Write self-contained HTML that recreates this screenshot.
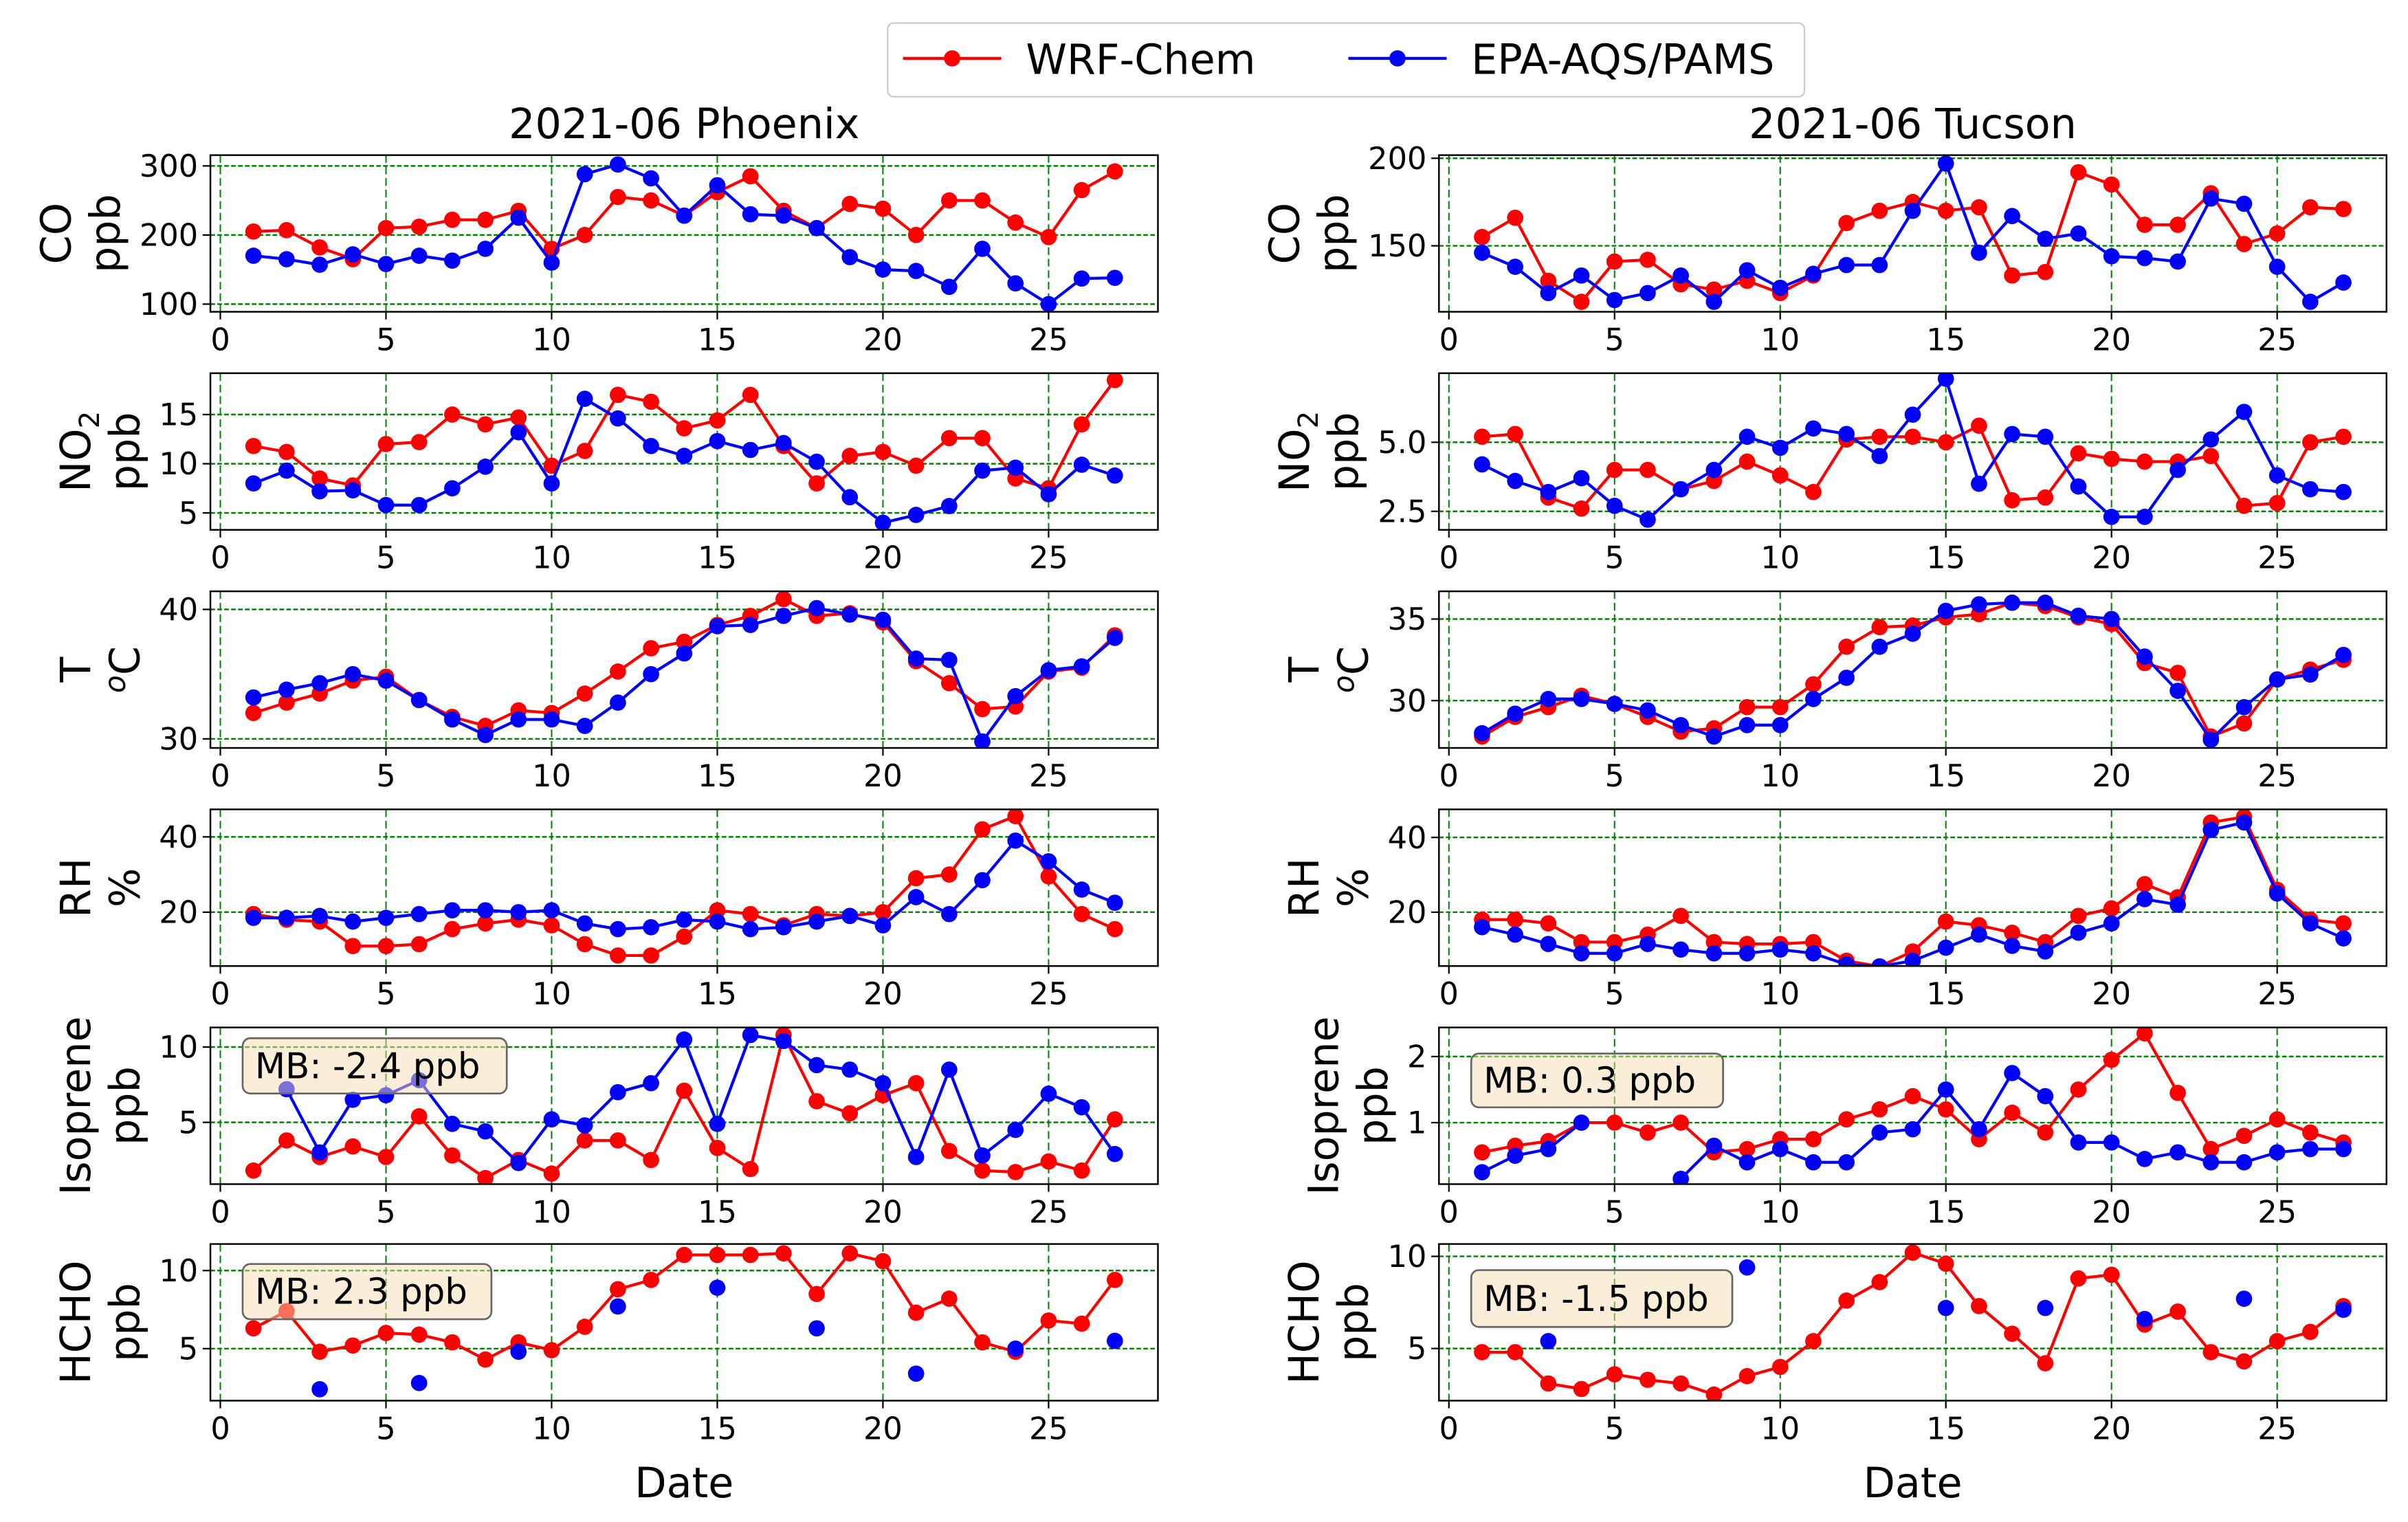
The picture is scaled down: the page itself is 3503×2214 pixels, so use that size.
<!DOCTYPE html>
<html><head><meta charset="utf-8"><style>
html,body{margin:0;padding:0;background:#fff;}
svg{display:block;font-family:"DejaVu Sans","Liberation Sans",sans-serif;}
</style></head><body>
<svg id="fig" width="3503" height="2214" viewBox="0 0 1568 991" xmlns="http://www.w3.org/2000/svg"></svg>
<script>
const days = [1,2,3,4,5,6,7,8,9,10,11,12,13,14,15,16,17,18,19,20,21,22,23,24,25,26,27];
const N = null;
const phxCoWrf = [205,207,182,165,210,212,222,222,235,180,200,255,250,228,262,285,235,210,245,238,200,250,250,218,197,265,292];
const phxCoObs = [170,165,157,172,158,170,163,180,225,160,288,302,282,228,272,230,228,210,168,150,148,125,180,130,100,137,138];
const tusCoWrf = [155,166,130,118,141,142,128,125,130,123,133,163,170,175,170,172,133,135,192,185,162,162,180,151,157,172,171];
const tusCoObs = [146,138,123,133,119,123,133,118,136,126,134,139,139,170,197,146,167,154,157,144,143,141,177,174,138,118,129];
const phxNo2Wrf = [11.8,11.2,8.5,7.8,12,12.2,15,14,14.7,9.8,11.3,17,16.3,13.6,14.4,17,11.8,8,10.8,11.2,9.8,12.6,12.6,8.5,7.5,14,18.5];
const phxNo2Obs = [8,9.3,7.2,7.3,5.8,5.8,7.5,9.7,13.2,8,16.6,14.6,11.8,10.8,12.3,11.4,12.1,10.2,6.6,4,4.8,5.7,9.3,9.6,6.9,9.9,8.8];
const tusNo2Wrf = [5.2,5.3,3.0,2.6,4.0,4.0,3.3,3.6,4.3,3.8,3.2,5.1,5.2,5.2,5.0,5.6,2.9,3.0,4.6,4.4,4.3,4.3,4.5,2.7,2.8,5.0,5.2];
const tusNo2Obs = [4.2,3.6,3.2,3.7,2.7,2.2,3.3,4.0,5.2,4.8,5.5,5.3,4.5,6.0,7.3,3.5,5.3,5.2,3.4,2.3,2.3,4.0,5.1,6.1,3.8,3.3,3.2];
const phxTWrf = [32,32.8,33.5,34.5,34.8,33,31.7,31,32.2,32,33.5,35.2,37,37.5,38.8,39.5,40.8,39.5,39.7,39,36,34.3,32.3,32.5,35.2,35.5,38];
const phxTObs = [33.2,33.8,34.3,35,34.5,33,31.5,30.3,31.5,31.5,31,32.8,35,36.6,38.7,38.8,39.5,40.1,39.6,39.2,36.2,36.1,29.8,33.3,35.3,35.6,37.8];
const tusTWrf = [27.8,29,29.6,30.3,29.8,29,28.1,28.3,29.6,29.6,31,33.3,34.5,34.6,35.1,35.3,36,35.8,35.1,34.7,32.3,31.7,27.8,28.6,31.3,31.9,32.5];
const tusTObs = [28,29.2,30.1,30.1,29.8,29.4,28.5,27.8,28.5,28.5,30.1,31.4,33.3,34.1,35.5,35.9,36,36,35.2,35,32.7,30.6,27.6,29.6,31.3,31.6,32.8];
const phxRhWrf = [19.5,18,17.5,11,11,11.5,15.5,17,18,16.5,11.5,8.5,8.5,13.5,20.5,19.5,16.5,19.5,19,20,29,30,42,45.5,29.5,19.5,15.5];
const phxRhObs = [18.5,18.5,19,17.5,18.5,19.5,20.5,20.5,20,20.5,17,15.5,16,18,17.5,15.5,16,17.5,19,16.5,24,19.5,28.5,39,33.5,26,22.5];
const tusRhWrf = [18,18,17,12,12,14,19,12,11.5,11.5,12,7,5.5,9.5,17.5,16.5,14.5,12,19,21,27.5,24,44,45.5,26,18,17];
const tusRhObs = [16,14,11.5,9,9,11.5,10,9,9,10,9,6,5.5,7,10.5,14,11,9.5,14.5,17,23.5,22,42,44,25,17,13];
const phxIsoWrf = [1.8,3.8,2.7,3.4,2.7,5.4,2.8,1.3,2.5,1.6,3.8,3.8,2.5,7.1,3.3,1.9,10.8,6.4,5.6,6.8,7.6,3.1,1.8,1.7,2.4,1.8,5.2];
const phxIsoObs = [N,7.2,3.0,6.5,6.8,7.8,4.9,4.4,2.3,5.2,4.8,7.0,7.6,10.5,4.9,10.8,10.4,8.8,8.5,7.6,2.7,8.5,2.8,4.5,6.9,6.0,2.9];
const tusIsoWrf = [0.55,0.65,0.72,1.0,1.0,0.85,1.0,0.55,0.6,0.75,0.75,1.05,1.2,1.4,1.2,0.75,1.15,0.85,1.5,1.95,2.35,1.45,0.6,0.8,1.05,0.85,0.7];
const tusIsoObs = [0.25,0.5,0.6,1.0,N,N,0.15,0.65,0.4,0.6,0.4,0.4,0.85,0.9,1.5,0.9,1.75,1.4,0.7,0.7,0.45,0.55,0.4,0.4,0.55,0.6,0.6];
const phxHchoWrf = [6.3,7.4,4.8,5.2,6.0,5.9,5.4,4.3,5.4,4.9,6.4,8.8,9.4,11,11,11,11.1,8.5,11.1,10.6,7.3,8.2,5.4,4.8,6.8,6.6,9.4];
const phxHchoObs = [N,N,2.4,N,N,2.8,N,N,4.8,N,N,7.7,N,N,8.9,N,N,6.3,N,N,3.4,N,N,5.0,N,N,5.5];
const tusHchoWrf = [4.8,4.8,3.1,2.8,3.6,3.3,3.1,2.5,3.5,4.0,5.4,7.6,8.6,10.2,9.6,7.3,5.8,4.2,8.8,9.0,6.3,7.0,4.8,4.3,5.4,5.9,7.3];
const tusHchoObs = [N,N,5.4,N,N,N,N,N,9.4,N,N,N,N,N,7.2,N,N,7.2,N,N,6.6,N,N,7.7,N,N,7.1];
const xTicks = [0,5,10,15,20,25];

const svg = document.getElementById('fig');
const NS = 'http://www.w3.org/2000/svg';
function mk(tag, attrs, parent, text){
  const e = document.createElementNS(NS, tag);
  for (const k in attrs) e.setAttribute(k, attrs[k]);
  if (text !== undefined) e.textContent = text;
  (parent || svg).appendChild(e);
  return e;
}
const colsX = [137, 937];
const W = 617;
const rowsY = [101,243,385,527,669,810];
const H = 102;
const XMIN = -0.3, XMAX = 28.3;
const TFS = 20;
const LFS = 27;
const MR = 5.3;
const LW = 1.9;

const panels = [
 {c:0,r:0,l1:'CO',l2:'ppb',ylim:[88.9,315.6],ticks:[100,200,300],tl:['100','200','300'],w:phxCoWrf,o:phxCoObs,name:'phoenix-co'},
 {c:1,r:0,l1:'CO',l2:'ppb',ylim:[112.3,201.8],ticks:[150,200],tl:['150','200'],w:tusCoWrf,o:tusCoObs,name:'tucson-co'},
 {c:0,r:1,l1:'NO2',l2:'ppb',ylim:[3.28,19.2],ticks:[5,10,15],tl:['5','10','15'],w:phxNo2Wrf,o:phxNo2Obs,name:'phoenix-no2'},
 {c:1,r:1,l1:'NO2',l2:'ppb',ylim:[1.83,7.5],ticks:[2.5,5],tl:['2.5','5.0'],w:tusNo2Wrf,o:tusNo2Obs,name:'tucson-no2'},
 {c:0,r:2,l1:'T',l2:'oC',ylim:[29.3,41.4],ticks:[30,40],tl:['30','40'],w:phxTWrf,o:phxTObs,name:'phoenix-t'},
 {c:1,r:2,l1:'T',l2:'oC',ylim:[27.1,36.7],ticks:[30,35],tl:['30','35'],w:tusTWrf,o:tusTObs,name:'tucson-t'},
 {c:0,r:3,l1:'RH',l2:'%',ylim:[5.7,47.3],ticks:[20,40],tl:['20','40'],w:phxRhWrf,o:phxRhObs,name:'phoenix-rh'},
 {c:1,r:3,l1:'RH',l2:'%',ylim:[5.6,47.5],ticks:[20,40],tl:['20','40'],w:tusRhWrf,o:tusRhObs,name:'tucson-rh'},
 {c:0,r:4,l1:'Isoprene',l2:'ppb',ylim:[0.9,11.3],ticks:[5,10],tl:['5','10'],w:phxIsoWrf,o:phxIsoObs,name:'phoenix-isoprene',mb:'MB: -2.4 ppb',box:[158,676,172,36]},
 {c:1,r:4,l1:'Isoprene',l2:'ppb',ylim:[0.07,2.44],ticks:[1,2],tl:['1','2'],w:tusIsoWrf,o:tusIsoObs,name:'tucson-isoprene',mb:'MB: 0.3 ppb',box:[958,686,164,35]},
 {c:0,r:5,l1:'HCHO',l2:'ppb',ylim:[1.67,11.7],ticks:[5,10],tl:['5','10'],w:phxHchoWrf,o:phxHchoObs,name:'phoenix-hcho',mb:'MB: 2.3 ppb',box:[158,823,162,36]},
 {c:1,r:5,l1:'HCHO',l2:'ppb',ylim:[2.17,10.67],ticks:[5,10],tl:['5','10'],w:tusHchoWrf,o:tusHchoObs,name:'tucson-hcho',mb:'MB: -1.5 ppb',box:[958,827,170,37]},
];

function drawSeries(g, vals, sx, sy, color, nm){
  let seg = [];
  const segs = [];
  vals.forEach((v,i)=>{ if (v===null){ if(seg.length) segs.push(seg); seg=[]; } else seg.push([sx(days[i]), sy(v)]); });
  if (seg.length) segs.push(seg);
  segs.forEach(s=>{
    if (s.length>1){
      const p = mk('polyline',{points:s.map(q=>q.join(',')).join(' '),fill:'none',stroke:color,'stroke-width':LW,'stroke-linejoin':'round'},g);
      
      
    }
  });
  vals.forEach((v,i)=>{
    if (v===null) return;
    const c = mk('circle',{cx:sx(days[i]),cy:sy(v),r:MR,fill:color},g);
    
    
  });
}

panels.forEach(p=>{
  const x0 = colsX[p.c], y0 = rowsY[p.r];
  const g = mk('g',{});
  
  
  const sx = v => x0 + (v - XMIN)/(XMAX-XMIN)*W;
  const sy = v => y0 + H - (v - p.ylim[0])/(p.ylim[1]-p.ylim[0])*H;
  const cid = 'clip-'+p.name;
  const cp = mk('clipPath',{id:cid},g); mk('rect',{x:x0,y:y0,width:W,height:H},cp);
  const grid = mk('g',{'clip-path':'url(#'+cid+')'},g);
  xTicks.forEach(t=>{
    const l = mk('line',{x1:sx(t),x2:sx(t),y1:y0,y2:y0+H,stroke:'#008000','stroke-width':0.9,'stroke-dasharray':'5,2.5'},grid);
    
    
  });
  p.ticks.forEach(t=>{
    const l = mk('line',{x1:x0,x2:x0+W,y1:sy(t),y2:sy(t),stroke:'#008000','stroke-width':1.1,'stroke-dasharray':'3,1.5'},grid);
    
    
  });
  const plot = mk('g',{'clip-path':'url(#'+cid+')'},g);
  drawSeries(plot, p.w, sx, sy, '#ff0000', p.name+'-wrf');
  drawSeries(plot, p.o, sx, sy, '#0000ff', p.name+'-obs');
  mk('rect',{x:x0,y:y0,width:W,height:H,fill:'none',stroke:'#000','stroke-width':1.1},g);
  xTicks.forEach(t=>{
    mk('line',{x1:sx(t),x2:sx(t),y1:y0+H,y2:y0+H+5,stroke:'#000','stroke-width':1},g);
    const tx = mk('text',{x:sx(t),y:y0+H+25,'font-size':TFS,'text-anchor':'middle',fill:'#000'},g,String(t));
    
    
  });
  let tw = 0;
  p.ticks.forEach((t,i)=>{
    mk('line',{x1:x0-5,x2:x0,y1:sy(t),y2:sy(t),stroke:'#000','stroke-width':1},g);
    const tx = mk('text',{x:x0-8,y:sy(t)+7,'font-size':TFS,'text-anchor':'end',fill:'#000'},g,p.tl[i]);
    
    
    const s = p.tl[i];
    let w = 0; for (const ch of s) w += (ch==='.'?0.32:0.636)*TFS;
    tw = Math.max(tw, w);
  });
  const tickStart = x0 - 8 - tw;
  const c2 = tickStart - 22, c1 = c2 - 32;
  const lx2 = c2 + 9, lx1 = c1 + 9;
  const cy = y0 + H/2;
  const yl = mk('text',{x:lx1,y:cy,'font-size':LFS,'text-anchor':'middle',fill:'#000',transform:'rotate(-90 '+lx1+' '+cy+')'},g);
  
  
  if (p.l1==='NO2'){ mk('tspan',{},yl,'NO'); mk('tspan',{'font-size':18,dy:6},yl,'2'); }
  else yl.textContent = p.l1;
  const yl2 = mk('text',{x:lx2,y:cy,'font-size':LFS,'text-anchor':'middle',fill:'#000',transform:'rotate(-90 '+lx2+' '+cy+')'},g);
  
  
  if (p.l2==='oC'){ mk('tspan',{'font-size':19,dy:-9,'font-style':'italic'},yl2,'o'); mk('tspan',{dy:9},yl2,'C'); }
  else yl2.textContent = p.l2;
  if (p.mb){
    const b = p.box;
    const r = mk('rect',{x:b[0],y:b[1],width:b[2],height:b[3],rx:5,fill:'#f5deb3','fill-opacity':0.5,stroke:'#666','stroke-width':1.2},g);
    
    
    const t = mk('text',{x:b[0]+8,y:b[1]+b[3]/2+8,'font-size':23,fill:'#000'},g,p.mb);
    
    
  }
});

[['2021-06 Phoenix',445.5],['2021-06 Tucson',1245.5]].forEach(([t,x])=>{
  const e = mk('text',{x:x,y:90,'font-size':27,'text-anchor':'middle',fill:'#000'},svg,t);
  
  
});
[445.5,1245.5].forEach(x=>{
  const e = mk('text',{x:x,y:975,'font-size':27,'text-anchor':'middle',fill:'#000'},svg,'Date');
  
  
});
const lg = mk('g',{});


mk('rect',{x:578,y:15,width:597,height:48,rx:4,fill:'#fff',stroke:'#ccc','stroke-width':1},lg);
[['WRF-Chem','#ff0000',588],['EPA-AQS/PAMS','#0000ff',878]].forEach(([t,c,x])=>{
  const e = mk('g',{},lg);
  
  
  mk('line',{x1:x,x2:x+64,y1:38,y2:38,stroke:c,'stroke-width':LW},e);
  mk('circle',{cx:x+32,cy:38,r:MR,fill:c},e);
  mk('text',{x:x+80,y:48,'font-size':27,fill:'#000'},e,t);
});
</script>
</body></html>
